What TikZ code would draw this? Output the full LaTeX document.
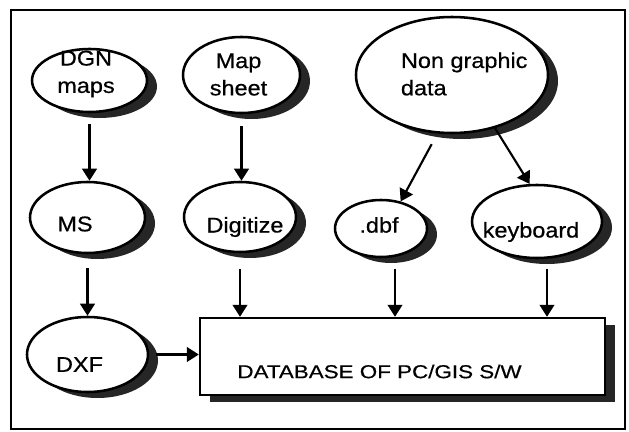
\documentclass[tikz,border=0pt]{standalone}
\usepackage{fontspec}
\setmainfont{Liberation Sans}
\newfontfamily\blobfont[FakeStretch=1.1,FakeBold=0.6]{Liberation Sans}
\newfontfamily\dbfont[FakeStretch=1.2,FakeBold=0.5]{Liberation Sans}
\usetikzlibrary{shapes.geometric,shadows,arrows.meta}
\begin{document}
\begin{tikzpicture}[x=0.75pt,y=-0.75pt,
  blob/.style={ellipse, draw, line width=1.9pt, fill=white, inner sep=0pt,
    drop shadow={shadow xshift=7.5pt, shadow yshift=-4.5pt, opacity=1, fill=black!85}},
  dbbox/.style={rectangle, draw, line width=1.8pt, fill=white, inner sep=0pt,
    drop shadow={shadow xshift=7.5pt, shadow yshift=-5pt, opacity=1, fill=black!85}},
  txt/.style={font=\blobfont\fontsize{16}{20.5}\selectfont, align=center, inner sep=0pt},
  dbtxt/.style={font=\dbfont\fontsize{14}{17}\selectfont, inner sep=0pt},
  arr/.style={-{Triangle[width=11pt,length=9pt]}, line width=1.6pt},
]
\useasboundingbox (0,0) rectangle (629,432);
\draw[line width=2pt] (11,10) rectangle (625,429);

% ellipses
\node[blob, minimum width=86.25pt, minimum height=47.25pt] (dgn) at (89.5,80.5) {};
\node[blob, minimum width=87.75pt, minimum height=57pt] (map) at (241.5,75) {};
\node[blob, minimum width=144pt, minimum height=87pt] (ng) at (452,75) {};
\node[blob, minimum width=86.25pt, minimum height=53.25pt] (ms) at (87.5,217.5) {};
\node[blob, minimum width=84pt, minimum height=52.5pt] (dig) at (240,217) {};
\node[blob, minimum width=69pt, minimum height=42.75pt] (dbf) at (381,228.5) {};
\node[blob, minimum width=97.5pt, minimum height=54.75pt] (kb) at (537,221.5) {};
\node[blob, minimum width=90.75pt, minimum height=56.25pt] (dxf) at (87.5,354.5) {};
\node[dbbox, minimum width=303.75pt, minimum height=57.75pt] (db) at (402.5,356.5) {};

% texts
\node[txt] (dgnT) at (86,74) {DGN\\maps};
\node[txt] (mapT) at (238.5,74.5) {Map\\sheet};
\node[txt, align=left, anchor=west] (ngT) at (400.7,74) {Non graphic\\data};
\node[txt] (msT) at (75,224) {MS};
\node[txt] (digT) at (245,227) {Digitize};
\node[txt] (dbfT) at (379,225) {.dbf};
\node[txt] (kbT) at (531,232) {keyboard};
\node[txt] (dxfT) at (79.5,364.5) {DXF};
\node[dbtxt] (dbT) at (379.5,371.5) {DATABASE OF PC/GIS S/W};

% connectors
\draw[arr, shorten <=8pt] (dgn.south) -- (dgn.south |- ms.north);
\draw[arr, shorten <=9pt] (map.south) -- (map.south |- dig.north);
\draw[arr, shorten <=10.5pt] (ms.south) -- (ms.south |- dxf.north);
\draw[arr, shorten <=12pt] (dig.south) -- (dig.south |- db.north);
\draw[arr, shorten <=8pt] ([xshift=10.5pt]dbf.south) -- ([xshift=10.5pt]dbf.south |- db.north);
\draw[arr, shorten <=7.5pt] ([xshift=7.5pt]kb.south) -- ([xshift=7.5pt]kb.south |- db.north);
\draw[arr, shorten <=5pt] (dxf.east) -- (dxf.east -| db.west);
\draw[arr, shorten <=9pt] (ng.256) -- (dbf.54);
\draw[arr] (ng.309) -- (kb.101);
\end{tikzpicture}
\end{document}
